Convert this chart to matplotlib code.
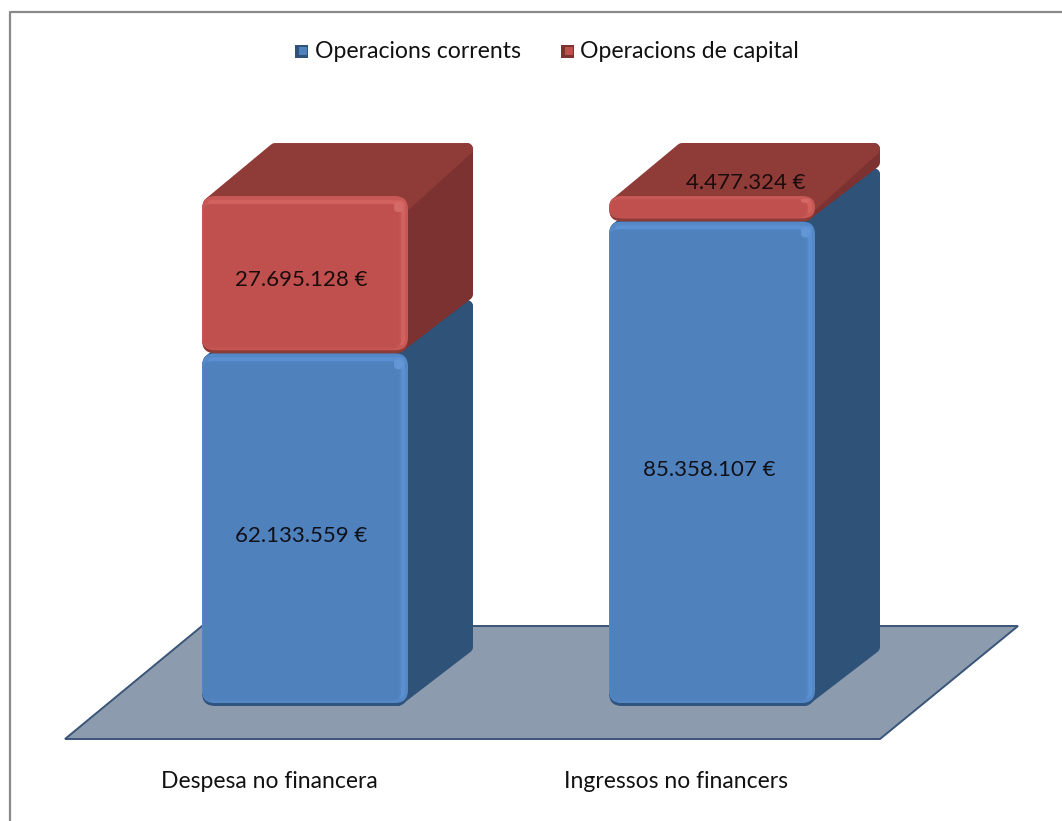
import matplotlib
matplotlib.use('Agg')
import matplotlib.pyplot as plt
import matplotlib.colors as mcolors
from matplotlib.patches import FancyBboxPatch, Polygon, Rectangle

plt.rcParams['font.family'] = ['Lato', 'DejaVu Sans']

categories = ['Despesa no financera', 'Ingressos no financers']
corrents = [62133559, 85358107]
capital = [27695128, 4477324]
corrents_labels = ['62.133.559 €', '85.358.107 €']
capital_labels = ['27.695.128 €', '4.477.324 €']
series_names = ['Operacions corrents', 'Operacions de capital']

W, H = 1062, 821
# scale of the picture: one category = 407 px, 1M euro = 5.677 px
px_x = 1 / 407.0
px_y = 1e6 / 5.677
x0_px, y0_px = 305, 706

fig = plt.figure(figsize=(W / 100, H / 100), dpi=100)
ax = fig.add_axes([0, 0, 1, 1])
ax.set_xlim(-x0_px * px_x, (W - x0_px) * px_x)
ax.set_ylim(-(H - y0_px) * px_y, y0_px * px_y)
ax.axis('off')

bar_w = 206 * px_x
dx = 65 * px_x
dy = 53 * px_y


def X(p):
    return (p - x0_px) * px_x


def Y(p):
    return (y0_px - p) * px_y


def mix(c1, c2, t):
    a, b = mcolors.to_rgb(c1), mcolors.to_rgb(c2)
    return tuple(a[k] + (b[k] - a[k]) * t for k in range(3))


def round_box(x, y, w, h, color, rad, z):
    rx = min(rad * px_x, w / 2.01)
    ry = min(rad * px_y, h / 2.01)
    p = FancyBboxPatch((x + rx, y + ry), w - 2 * rx, h - 2 * ry,
                       boxstyle='round,pad=%f,rounding_size=%f' % (rx, rx),
                       mutation_aspect=ry / rx, fc=color, ec='none', lw=0, zorder=z)
    ax.add_patch(p)


def round_poly(pts, color, z, rad=6):
    # corners come out round from the thick stroke with round joins
    ax.add_patch(Polygon(pts, fc=color, ec=color, lw=rad * 2 * 0.72, joinstyle='round', zorder=z))


def draw_block(xc, bottom, val, front, light, dark, side, top, z):
    x = xc - bar_w / 2
    xr = x + bar_w
    y1 = bottom + val
    h_px = val / px_y
    rr = 6
    ix, iy = rr * px_x, rr * px_y
    # side face
    round_poly([(xr - 10 * px_x, bottom + iy), (xr + dx - ix, bottom + dy + iy),
                (xr + dx - ix, y1 + dy - iy), (xr - 10 * px_x, y1 - iy)], side, z, rr)
    # top face
    round_poly([(x + 8 * px_x, y1 - 7 * px_y), (x + dx + 8 * px_x, y1 + dy - iy),
                (xr + dx - ix, y1 + dy - iy), (xr - 4 * px_x, y1 - 10 * px_y)], top, z + 0.1, rr)
    # front face: dark rim, then soft steps from the bevel into the flat colour
    edge = mix(light, front, 0.55)
    round_box(x, bottom, bar_w, val, dark, 13, z + 1)
    round_box(x, bottom + 3 * px_y, bar_w, val - 3 * px_y, edge, 13, z + 1.1)
    f = min(1.0, h_px / 60.0)
    # right and top bevel bands
    round_box(x + bar_w - 14 * px_x, bottom + 8 * px_y, 11 * px_x, val - 12 * px_y, light, 5, z + 1.12)
    round_box(x + 6 * px_x, y1 - 11 * f * px_y - 2 * px_y, bar_w - 12 * px_x, 9 * f * px_y, light, 4, z + 1.12)
    n = 6
    for k in range(1, n + 1):
        t = k / n
        round_box(x + 2 * t * px_x, bottom + (3 + 4 * t * f) * px_y,
                  bar_w - (2 + 10 * (0.4 + 0.6 * t)) * px_x, val - (3 + (4 + 9 * (0.4 + 0.6 * t)) * f) * px_y,
                  mix(edge, front, t), 12 - 6 * t, z + 1.2 + k * 0.01)
    # bright spot on the front corner
    round_box(xr - 14 * px_x, y1 - 16 * f * px_y, 9 * px_x, 10 * f * px_y, mix(light, '#ffffff', 0.05), 4, z + 1.3)


# floor
ax.add_patch(Polygon([(X(65), Y(739)), (X(880), Y(739)), (X(1018), Y(626)), (X(202), Y(626))],
                     fc='#8c9cae', ec='#3a5578', lw=1.4, zorder=1))

# text offsets from the middle of each segment, in px
corrents_shift = [(-4, -6), (-3, -6)]
capital_shift = [(-4, -5), (34, 26)]
category_x = [269, 676]

for i in range(len(categories)):
    draw_block(i, 0, corrents[i], '#4f81bd', '#5b90d2', '#2f5480', '#2f5279', '#2f5279', 3 + i)
    draw_block(i, corrents[i], capital[i], '#c0504d', '#d2625e', '#8e3a37', '#7b3230', '#8f3b38', 10 + i)
    ax.text(i + corrents_shift[i][0] * px_x, corrents[i] / 2 + corrents_shift[i][1] * px_y, corrents_labels[i],
            ha='center', va='center', fontsize=16, color='#101018', zorder=30)
    ax.text(i + capital_shift[i][0] * px_x, corrents[i] + capital[i] / 2 + capital_shift[i][1] * px_y,
            capital_labels[i], ha='center', va='center', fontsize=16, color='#1a0c0c', zorder=30)
    ax.text(X(category_x[i]), Y(781), categories[i], ha='center', va='center',
            fontsize=16.5, color='#111111', zorder=30)

# legend
for lx, tx, name, c1, c2 in [(295, 315, series_names[0], '#4f81bd', '#2f5279'),
                             (561, 580, series_names[1], '#c0504d', '#7b3230')]:
    ax.add_patch(Rectangle((X(lx), Y(58)), 13 * px_x, 13 * px_y, fc=c2, ec='none', zorder=5))
    ax.add_patch(Rectangle((X(lx + 4), Y(55)), 8 * px_x, 8 * px_y, fc=c1, ec='none', zorder=6))
    ax.text(X(tx), Y(51), name, ha='left', va='center', fontsize=16.6, color='#111111', zorder=30)

# picture frame
ax.plot([X(10), X(10), X(1062)], [Y(821), Y(12), Y(12)], color='#8a8a8a', lw=1.6, zorder=0)

fig.savefig('out.png', dpi=100)
